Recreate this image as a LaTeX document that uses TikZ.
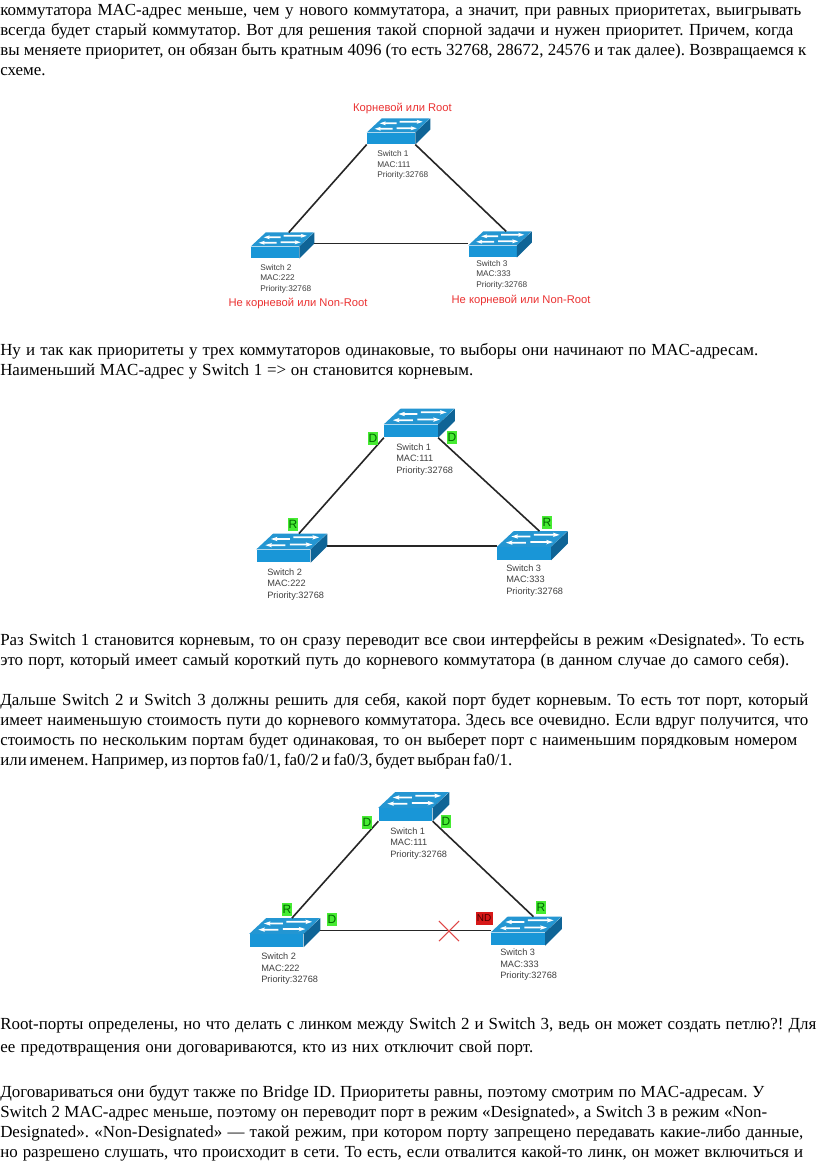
\documentclass[tikz,border=0pt]{standalone}
\usepackage{fontspec}
\setmainfont{Liberation Serif}
\newfontfamily\labelfont{Liberation Sans}
\usetikzlibrary{positioning,shapes.misc}
\definecolor{swtop}{RGB}{36,150,210}
\definecolor{swfront}{RGB}{25,150,215}
\definecolor{swside}{RGB}{15,100,150}
\definecolor{rootred}{RGB}{235,50,50}
\definecolor{portgreen}{RGB}{70,235,50}
\definecolor{portred}{RGB}{215,25,25}
\newdimen\pxunit
\pxunit=0.75pt
\frenchspacing
\newcommand{\swinfo}[2]{Switch #1\\MAC:#2\\Priority:32768}
\tikzset{
	bodytext/.style={anchor=base west,inner sep=0pt,font=\fontsize{12.7}{14}\selectfont},
	swlabel/.style={anchor=west,inner sep=0pt,align=left,text=black!75,font=\labelfont\fontsize{6.2}{7.9}\selectfont},
	swlabelbig/.style={swlabel,font=\labelfont\fontsize{6.9}{8.7}\selectfont},
	rootlabel/.style={inner sep=0pt,text=rootred,font=\labelfont\fontsize{8.4}{10}\selectfont},
	portlabel/.style={inner sep=0pt,minimum width=9.5\pxunit,minimum height=13\pxunit,fill=portgreen,text=black!60!green,font=\labelfont\fontsize{9}{9}\selectfont},
	ndlabel/.style={portlabel,minimum width=17\pxunit,fill=portred,text=black!70!red,font=\labelfont\fontsize{7.5}{9}\selectfont},
	crossmark/.style={cross out,draw=portred!80!white,line width=0.8pt,inner sep=0pt,minimum size=19\pxunit},
	link/.style={line width=1.2pt,black!85},
	swfrontbox/.style={fill=swfront,inner sep=0pt,minimum width=#1*48\pxunit,minimum height=#1*11.5\pxunit},
	pics/switchicon/.style={code={
		\node[swfrontbox=#1] (-front) at (0,0) {};
		\fill[swtop] (-front.north west) -- +(#1*15,-#1*14) -- +(#1*63,-#1*14) -- (-front.north east) -- cycle;
		\fill[swside] (-front.north east) -- +(#1*15,-#1*14) -- +(#1*15,-#1*3) -- (-front.south east) -- cycle;
		\coordinate (-back) at ([shift={(#1*38,-#1*14)}]-front.north west);
		\coordinate (-side) at ([shift={(#1*14.5,-#1*3)}]-front.north east);
		\coordinate (-left) at ([shift={(0,-#1*2)}]-front.north west);
		% four arrows on the top face
		\foreach \ax/\ay/\dx/\al in {30/-10/-1/17, 33/-11.5/1/23, 26/-4.5/-1/18, 30/-5/1/20}
			\fill[white] ([shift={(#1*\ax,#1*\ay)}]-front.north west) -- +(\dx*#1*\al-\dx*#1*5,0) -- +(\dx*#1*\al-\dx*#1*6,-#1*1.2) -- +(\dx*#1*\al,#1*0.8) -- +(\dx*#1*\al-\dx*#1*6,#1*2.8) -- +(\dx*#1*\al-\dx*#1*5,#1*1.6) -- +(0,#1*1.6) -- cycle;
	}}
}
\begin{document}
\begin{tikzpicture}[x=0.75pt,y=-0.75pt]
	\useasboundingbox[fill=white] (0,0) rectangle (816,1174);
	% page text
	\foreach \ty/\tw/\tline [count=\ti] in {
		15/801/{коммутатора MAC-адрес меньше, чем у нового коммутатора, а значит, при равных приоритетах, выигрывать},
		35/793/{всегда будет старый коммутатор. Вот для решения такой спорной задачи и нужен приоритет. Причем, когда},
		55/806/{вы меняете приоритет, он обязан быть кратным 4096 (то есть 32768, 28672, 24576 и так далее). Возвращаемся к},
		75/46/{схеме.},
		355/758/{Ну и так как приоритеты у трех коммутаторов одинаковые, то выборы они начинают по MAC-адресам.},
		375/473/{Наименьший MAC-адрес у Switch 1 => он становится корневым.},
		645/804/{Раз Switch 1 становится корневым, то он сразу переводит все свои интерфейсы в режим «Designated». То есть},
		665/789/{это порт, который имеет самый короткий путь до корневого коммутатора (в данном случае до самого себя).},
		705/808/{Дальше Switch 2 и Switch 3 должны решить для себя, какой порт будет корневым. То есть тот порт, который},
		725/808/{имеет наименьшую стоимость пути до корневого коммутатора. Здесь все очевидно. Если вдруг получится, что},
		745/797/{стоимость по нескольким портам будет одинаковая, то он выберет порт с наименьшим порядковым номером},
		765/512/{или именем. Например, из портов fa0/1, fa0/2 и fa0/3, будет выбран fa0/1.},
		1029/816/{Root-порты определены, но что делать с линком между Switch 2 и Switch 3, ведь он может создать петлю?! Для},
		1052/533/{ее предотвращения они договариваются, кто из них отключит свой порт.},
		1097/764/{Договариваться они будут также по Bridge ID. Приоритеты равны, поэтому смотрим по MAC-адресам. У},
		1117/767/{Switch 2 MAC-адрес меньше, поэтому он переводит порт в режим «Designated», а Switch 3 в режим «Non-},
		1137/803/{Designated». «Non-Designated» — такой режим, при котором порту запрещено передавать какие-либо данные,},
		1157/803/{но разрешено слушать, что происходит в сети. То есть, если отвалится какой-то линк, он может включиться и}}
		\node[bodytext] (line\ti) at (0,\ty) {\makebox[\tw\pxunit][s]{\tline}};
	% first scheme
	\pic (swa) at (391,138.5) {switchicon=1};
	\pic (swb) at (275,252.5) {switchicon=1};
	\pic (swc) at (492.5,251.5) {switchicon=1};
	\draw[link] (swa-front.south west) -- (swb-back);
	\draw[link] (swa-front.south east) -- (swc-back);
	\draw[link] (swb-side) -- (swb-side -| swc-left);
	\node[swlabel] (infoa) at (377,165) {\swinfo{1}{111}};
	\node[swlabel] (infob) at (260,278.5) {\swinfo{2}{222}};
	\node[swlabel] (infoc) at (476,274.5) {\swinfo{3}{333}};
	\node[rootlabel] (roota) at (402.5,109) {Корневой или Root};
	\node[rootlabel] (rootb) at (298,304) {Не корневой или Non-Root};
	\node[rootlabel] (rootc) at (521,301) {Не корневой или Non-Root};
	% second scheme
	\pic (swd) at (411,431) {switchicon=1.12};
	\pic (swe) at (283.5,556) {switchicon=1.12};
	\pic (swf) at (524,553.5) {switchicon=1.12};
	\draw[link] (swd-front.south west) -- (swe-back);
	\draw[link] (swd-front.south east) -- (swf-back);
	\draw[link] (swe-side) -- (swe-side -| swf-left);
	\node[swlabelbig] (infod) at (396,459.5) {\swinfo{1}{111}};
	\node[swlabelbig] (infoe) at (267,584.5) {\swinfo{2}{222}};
	\node[swlabelbig] (infof) at (506,580.5) {\swinfo{3}{333}};
	\node[portlabel] (portda) at (373,438) {D};
	\node[portlabel] (portdb) at (452,437) {D};
	\node[portlabel] (portea) at (293,524) {R};
	\node[portlabel] (portfa) at (547,522) {R};
	% third scheme
	\pic (swg) at (405.5,814.5) {switchicon=1.12};
	\pic (swh) at (276.5,940.5) {switchicon=1.12};
	\pic (swi) at (518,939) {switchicon=1.12};
	\draw[link] (swg-front.south west) -- (swh-back);
	\draw[link] (swg-front.south east) -- (swi-back);
	\draw[link] (swh-side) -- (swh-side -| swi-left);
	\node[swlabelbig] (infog) at (390,843.5) {\swinfo{1}{111}};
	\node[swlabelbig] (infoh) at (261,969) {\swinfo{2}{222}};
	\node[swlabelbig] (infoi) at (500,965) {\swinfo{3}{333}};
	\node[portlabel] (portga) at (367,822) {D};
	\node[portlabel] (portgb) at (446,821) {D};
	\node[portlabel] (portha) at (287,909) {R};
	\node[portlabel] (porthb) at (332,919) {D};
	\node[portlabel] (portia) at (541,907) {R};
	\node[ndlabel] (portib) at (484,918) {ND};
	\node[crossmark] (cross) at (449,931) {};
\end{tikzpicture}
\end{document}
